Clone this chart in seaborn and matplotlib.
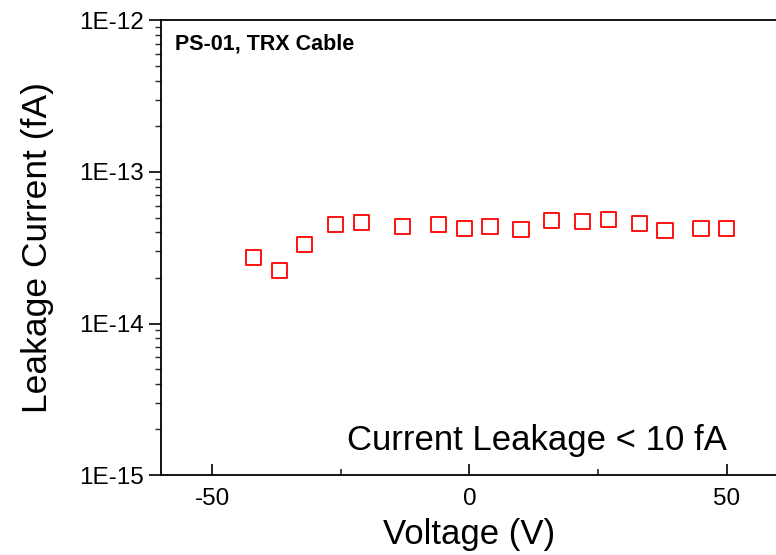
import numpy as np
import pandas as pd
import matplotlib
matplotlib.use("Agg")
import matplotlib.pyplot as plt
import seaborn as sns
from matplotlib.ticker import FuncFormatter, LogLocator, FixedLocator, NullFormatter

voltage = [-42, -37, -32, -26, -21, -13, -6, -1, 4, 10, 16, 22, 27, 33, 38, 45, 50]
current = [2.72e-14, 2.23e-14, 3.33e-14, 4.50e-14, 4.65e-14, 4.37e-14, 4.48e-14, 4.24e-14,
           4.35e-14, 4.17e-14, 4.79e-14, 4.71e-14, 4.83e-14, 4.59e-14, 4.12e-14, 4.25e-14, 4.22e-14]
x_ticks = [-50, 0, 50]
y_ticks = [1e-15, 1e-14, 1e-13, 1e-12]

sns.set_theme(style="white")
plt.rcParams['font.family'] = ['Liberation Sans', 'DejaVu Sans']
plt.rcParams['axes.unicode_minus'] = False

df = pd.DataFrame({"Voltage": voltage, "Current": current})

fig = plt.figure(figsize=(7.76, 5.55), dpi=100)
ax = fig.add_axes([0.2073, 0.1441, 0.7954, 0.8190])

sns.scatterplot(data=df, x="Voltage", y="Current", ax=ax, marker="s", s=120,
                facecolors="none", edgecolor="#ff0000", linewidth=1.3, legend=False)

ax.set_yscale("log")
ax.set_ylim(1e-15, 1e-12)
ax.set_xlim(-60, 60)

ax.xaxis.set_major_locator(FixedLocator(x_ticks))
ax.xaxis.set_minor_locator(FixedLocator([-25, 25]))
ax.yaxis.set_major_locator(FixedLocator(y_ticks))
ax.yaxis.set_minor_locator(LogLocator(base=10, subs=np.arange(2, 10)))
ax.yaxis.set_minor_formatter(NullFormatter())
ax.yaxis.set_major_formatter(FuncFormatter(lambda v, p: f"1E{int(round(np.log10(v)))}"))

for sp in ax.spines.values():
    sp.set_color("black")
    sp.set_linewidth(1.3)

ax.tick_params(axis="x", which="major", direction="in", length=8, width=1.2, labelsize=17.5,
               colors="black", pad=9, bottom=True)
ax.tick_params(axis="x", which="minor", direction="in", length=4, width=1.2, bottom=True)
ax.tick_params(axis="y", which="major", direction="out", length=9, width=1.2, labelsize=17.5,
               colors="black", pad=3, left=True)
ax.tick_params(axis="y", which="minor", direction="out", length=4, width=1.0, left=True)

ax.set_xlabel("Voltage (V)", fontsize=25, labelpad=6, color="black")
ax.set_ylabel("Leakage Current (fA)", fontsize=25.5, labelpad=18, color="black")

ax.text(0.0228, 0.948, "PS-01, TRX Cable", transform=ax.transAxes, fontsize=15.5,
        fontweight="bold", ha="left", va="center", color="black")
ax.text(0.3015, 0.077, "Current Leakage < 10 fA", transform=ax.transAxes, fontsize=25,
        ha="left", va="center", color="black")

fig.savefig("out.png", dpi=100)
